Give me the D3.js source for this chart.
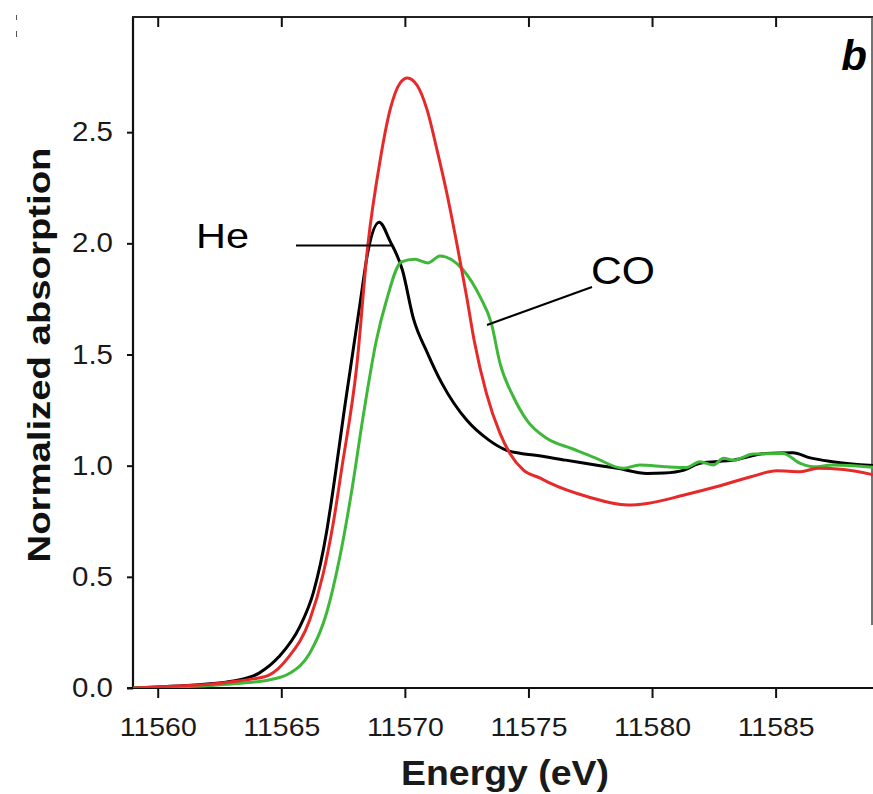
<!DOCTYPE html>
<html>
<head>
<meta charset="utf-8">
<script src="https://cdn.jsdelivr.net/npm/d3@7"></script>
<style>
  html, body { margin: 0; padding: 0; background: #fff; }
  svg { display: block; font-family: "Liberation Sans", Arial, sans-serif; }
</style>
</head>
<body>
<svg id="chart" width="873" height="794"></svg>
<script>
// ---- Data ----
const xTicks = [11560, 11565, 11570, 11575, 11580, 11585];
const yTicks = [0.0, 0.5, 1.0, 1.5, 2.0, 2.5];

// He (black)
const heEnergy = [11559, 11560, 11561, 11562, 11563, 11564.1, 11564.9, 11565.75, 11566.3, 11566.83, 11567.0, 11567.6, 11568.2, 11568.5, 11568.96, 11569.4, 11569.9, 11570.35, 11570.9, 11571.5, 11572.5, 11573.4, 11574.1, 11574.7, 11575.2, 11576.5, 11577.9, 11578.6, 11579.8, 11580.5, 11581.3, 11581.9, 11583.3, 11584.6, 11585.7, 11586.4, 11587.3, 11589];
const heValues = [0.0, 0.005, 0.01, 0.018, 0.03, 0.067, 0.14, 0.276, 0.43, 0.7, 0.82, 1.29, 1.74, 1.96, 2.095, 2.01, 1.88, 1.66, 1.51, 1.37, 1.205, 1.115, 1.07, 1.055, 1.048, 1.025, 1.0, 0.988, 0.965, 0.967, 0.98, 1.01, 1.025, 1.055, 1.058, 1.035, 1.018, 1.0];

// red series
const redEnergy = [11559, 11560, 11561, 11562, 11563, 11563.8, 11564.5, 11565.3, 11566.15, 11566.7, 11567.1, 11567.45, 11568.05, 11568.5, 11569.0, 11569.4, 11569.8, 11570.1, 11570.5, 11570.9, 11571.3, 11571.7, 11572.1, 11572.5, 11572.8, 11573.3, 11573.85, 11574.25, 11574.8, 11575.5, 11575.9, 11577.4, 11579.0, 11579.8, 11581.3, 11582.6, 11584.0, 11585.05, 11586.0, 11586.7, 11587.75, 11589];
const redValues = [0.0, 0.005, 0.01, 0.016, 0.028, 0.04, 0.058, 0.14, 0.306, 0.516, 0.74, 0.99, 1.445, 1.99, 2.374, 2.6, 2.72, 2.744, 2.71, 2.6, 2.42, 2.224, 2.0, 1.76, 1.565, 1.325, 1.145, 1.055, 0.98, 0.943, 0.92, 0.86, 0.823, 0.83, 0.868, 0.905, 0.95, 0.977, 0.973, 0.988, 0.983, 0.958];

// CO (green)
const coEnergy = [11559, 11560, 11561, 11562, 11563, 11564, 11564.5, 11565.34, 11566.15, 11566.83, 11567.37, 11567.84, 11568.31, 11568.85, 11569.26, 11569.86, 11570.4, 11570.94, 11571.42, 11572.36, 11573.04, 11573.5, 11573.85, 11574.39, 11574.93, 11575.74, 11576.8, 11577.7, 11578.84, 11579.5, 11580.6, 11581.4, 11581.94, 11582.48, 11582.89, 11583.3, 11584.1, 11585.3, 11586.0, 11586.53, 11587.34, 11589];
const coValues = [0.0, 0.003, 0.006, 0.01, 0.018, 0.028, 0.036, 0.066, 0.156, 0.336, 0.59, 0.88, 1.22, 1.565, 1.745, 1.917, 1.928, 1.912, 1.943, 1.88, 1.76, 1.64, 1.46, 1.31, 1.205, 1.123, 1.075, 1.035, 0.988, 1.003, 0.995, 0.992, 1.018, 1.003, 1.033, 1.025, 1.052, 1.055, 1.01, 0.995, 1.003, 0.992];

const seriesColors = ["#000000", "#e62a2a", "#3fb83a"];

// ---- Layout ----
const svg = d3.select("#chart");
const pL = 133, pR = 872, pT = 17, pB = 688;

const x = d3.scaleLinear().domain([11559, 11588.9]).range([pL, pR]);
const y = d3.scaleLinear().domain([0, 3.018]).range([pB, pT]);

// frame
svg.append("line").attr("x1", pL).attr("x2", pL).attr("y1", pT).attr("y2", pB)
  .attr("stroke", "#111").attr("stroke-width", 2.2);
svg.append("line").attr("x1", pL - 1).attr("x2", 873).attr("y1", pT).attr("y2", pT)
  .attr("stroke", "#222").attr("stroke-width", 2);
svg.append("line").attr("x1", pR).attr("x2", pR).attr("y1", pT).attr("y2", 625)
  .attr("stroke", "#444").attr("stroke-width", 1.5);

// x axis bottom
const xAxis = d3.axisBottom(x).tickValues(xTicks).tickFormat(d3.format("d")).tickSize(10).tickSizeOuter(0).tickPadding(19);
const gx = svg.append("g").attr("transform", `translate(0,${pB})`).call(xAxis);
gx.select(".domain").remove();
gx.append("line").attr("x1", pL - 6).attr("x2", 873).attr("y1", 0).attr("y2", 0)
  .attr("stroke", "#111").attr("stroke-width", 2.2);
gx.selectAll(".tick line").attr("stroke", "#111").attr("stroke-width", 2);
gx.selectAll(".tick text").attr("font-size", 26.5).attr("fill", "#1a1a1a")
  .attr("font-family", "Liberation Sans, Arial, sans-serif")
  .attr("textLength", 77).attr("lengthAdjust", "spacingAndGlyphs");

// x axis top ticks (inward)
const gt = svg.append("g").attr("transform", `translate(0,${pT})`)
  .call(d3.axisBottom(x).tickValues(xTicks).tickFormat("").tickSize(10).tickSizeOuter(0));
gt.select(".domain").remove();
gt.selectAll(".tick line").attr("stroke", "#111").attr("stroke-width", 2);

// y axis
const yAxis = d3.axisLeft(y).tickValues(yTicks).tickFormat(d3.format(".1f")).tickSize(6).tickSizeOuter(0).tickPadding(14);
const gy = svg.append("g").attr("transform", `translate(${pL},0)`).call(yAxis);
gy.select(".domain").remove();
gy.selectAll(".tick line").attr("stroke", "#111").attr("stroke-width", 2);
gy.selectAll(".tick text").attr("font-size", 27).attr("fill", "#1a1a1a")
  .attr("font-family", "Liberation Sans, Arial, sans-serif")
  .attr("textLength", 41).attr("lengthAdjust", "spacingAndGlyphs");

// curves
const line = d3.line().x(d => x(d[0])).y(d => y(d[1])).curve(d3.curveMonotoneX);
const series = [
  { e: heEnergy, v: heValues },
  { e: redEnergy, v: redValues },
  { e: coEnergy, v: coValues }
];
svg.append("clipPath").attr("id", "plotclip").append("rect")
  .attr("x", pL).attr("y", pT).attr("width", 873 - pL).attr("height", pB - pT);
const order = [0, 2, 1];
const gLines = svg.append("g").attr("clip-path", "url(#plotclip)");
order.forEach(i => {
  const s = series[i];
  gLines.append("path")
    .datum(s.e.map((e, k) => [e, s.v[k]]))
    .attr("fill", "none")
    .attr("stroke", seriesColors[i])
    .attr("stroke-width", 3)
    .attr("stroke-linejoin", "round")
    .attr("d", line);
});

// annotations
svg.append("text").attr("x", 196).attr("y", 248).attr("font-size", 35)
  .attr("textLength", 53).attr("lengthAdjust", "spacingAndGlyphs").text("He");
svg.append("line").attr("x1", 296).attr("x2", 391).attr("y1", 245.5).attr("y2", 245.5)
  .attr("stroke", "#000").attr("stroke-width", 2);
svg.append("text").attr("x", 591).attr("y", 284).attr("font-size", 39)
  .attr("textLength", 64).attr("lengthAdjust", "spacingAndGlyphs").text("CO");
svg.append("line").attr("x1", 487).attr("x2", 592).attr("y1", 325).attr("y2", 287)
  .attr("stroke", "#000").attr("stroke-width", 2);

svg.append("text").attr("x", 867).attr("y", 70).attr("text-anchor", "end")
  .attr("font-size", 42).attr("font-weight", "bold").attr("font-style", "italic").text("b");

// axis titles
svg.append("text").attr("x", 505).attr("y", 785).attr("text-anchor", "middle")
  .attr("font-size", 35).attr("font-weight", "bold").attr("fill", "#1a1a1a")
  .attr("textLength", 208).attr("lengthAdjust", "spacingAndGlyphs").text("Energy (eV)");
svg.append("text").attr("transform", "translate(50,355) rotate(-90)").attr("text-anchor", "middle")
  .attr("font-size", 32).attr("font-weight", "bold").attr("fill", "#111")
  .attr("textLength", 415).attr("lengthAdjust", "spacingAndGlyphs").text("Normalized absorption");

// small marks at top-left
svg.append("line").attr("x1", 16.5).attr("x2", 16.5).attr("y1", 15).attr("y2", 20).attr("stroke", "#555").attr("stroke-width", 1);
svg.append("line").attr("x1", 16.5).attr("x2", 16.5).attr("y1", 31).attr("y2", 37).attr("stroke", "#555").attr("stroke-width", 1);
</script>
</body>
</html>
